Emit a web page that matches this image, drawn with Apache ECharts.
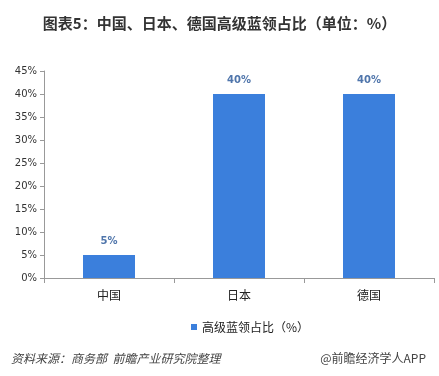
<!DOCTYPE html>
<html><head><meta charset="utf-8">
<script src="https://cdn.jsdelivr.net/npm/echarts@6/dist/echarts.min.js"></script>
<style>html,body{margin:0;padding:0;background:#fff}#c{width:439px;height:376px}</style>
</head><body><div id="c"></div>
<script>
const categories = ['中国', '日本', '德国'];
const values = [5, 40, 40];
const seriesName = '高级蓝领占比（%）';
const titleText = '图表5：中国、日本、德国高级蓝领占比（单位：%）';
const sourceText = '资料来源：商务部  前瞻产业研究院整理';
const brandText = '@前瞻经济学人APP';

const chart = echarts.init(document.getElementById('c'));
chart.setOption({
  backgroundColor: '#fff',
  animation: false,
  title: [{
    text: titleText, left: 'center', top: 11,
    textStyle: {fontFamily: 'Noto Sans CJK SC', fontSize: 15, fontWeight: 'bold', color: '#333'}
  }, {
    text: sourceText, left: 6, top: 347,
    textStyle: {fontFamily: 'Noto Sans CJK SC', fontSize: 12, fontWeight: 'normal', fontStyle: 'italic', color: '#444'}
  }, {
    text: brandText, right: 8, top: 347,
    textStyle: {fontFamily: 'Noto Sans CJK SC', fontSize: 12, fontWeight: 'normal', color: '#444'}
  }],
  legend: {
    data: [seriesName], top: 316, left: 186,
    icon: 'rect', itemWidth: 6, itemHeight: 6, itemGap: 4,
    textStyle: {fontFamily: 'Noto Sans CJK SC', fontSize: 12, color: '#222'}
  },
  grid: {left: 44, right: 5, top: 71, bottom: 98},
  xAxis: {
    type: 'category', data: categories,
    axisLine: {lineStyle: {color: '#999'}},
    axisTick: {show: true, alignWithLabel: false, length: 5, lineStyle: {color: '#999'}},
    axisLabel: {fontFamily: 'Noto Sans CJK SC', fontSize: 12, color: '#222', margin: 11}
  },
  yAxis: {
    type: 'value', min: 0, max: 45, interval: 5,
    splitLine: {show: false},
    axisLine: {show: true, lineStyle: {color: '#999'}},
    axisTick: {show: true, length: 4, lineStyle: {color: '#999'}},
    axisLabel: {formatter: '{value}%', fontFamily: 'DejaVu Sans', fontSize: 10, color: '#333', margin: 7}
  },
  series: [{
    name: seriesName, type: 'bar', data: values, barWidth: '40%',
    itemStyle: {color: '#3b7fdc'},
    label: {show: true, position: 'top', formatter: '{c}%', distance: 9,
      fontFamily: 'DejaVu Sans', fontSize: 10, fontWeight: 'bold', color: '#4f75ab'}
  }]
});
</script></body></html>
